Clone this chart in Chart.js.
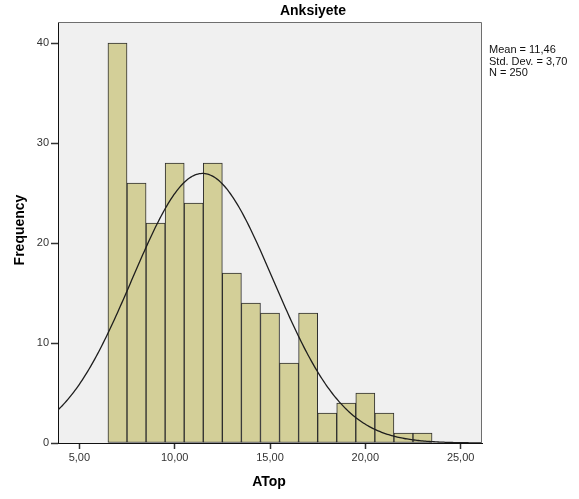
<!DOCTYPE html>
<html>
<head>
<meta charset="utf-8">
<script src="https://cdn.jsdelivr.net/npm/chart.js@4/dist/chart.umd.min.js"></script>
<style>
  html, body { margin: 0; padding: 0; background: #ffffff; }
  #wrap { width: 579px; height: 499px; position: relative; }
</style>
</head>
<body>
<div id="wrap"><canvas id="c" width="579" height="499"></canvas></div>
<script>
// Histogram bins (bin centres, width 1) and frequencies
const binCenters = [7, 8, 9, 10, 11, 12, 13, 14, 15, 16, 17, 18, 19, 20, 21, 22, 23];
const frequencies = [40, 26, 22, 28, 24, 28, 17, 14, 13, 8, 13, 3, 4, 5, 3, 1, 1];
const xTicks = [5, 10, 15, 20, 25];
const yTicks = [0, 10, 20, 30, 40];
const statsLines = ["Mean = 11,46", "Std. Dev. = 3,70", "N = 250"];
const MEAN = 11.46, SD = 3.70, N = 250, BIN_WIDTH = 1;
const titleText = "Anksiyete";
const xTitle = "ATop";
const yTitle = "Frequency";

// Fitted normal curve (from the reported mean / sd / N)
const X_MIN = 3.88, X_MAX = 26.12;
const curve = [];
for (let i = 0; i <= 300; i++) {
  const x = X_MIN + (X_MAX - X_MIN) * i / 300;
  const z = (x - MEAN) / SD;
  curve.push({ x: x, y: N * BIN_WIDTH * Math.exp(-0.5 * z * z) / (SD * Math.sqrt(2 * Math.PI)) });
}

const fmt = v => v.toFixed(2).replace('.', ',');
const FONT = "'Liberation Sans', Arial, sans-serif";

const decor = {
  id: 'decor',
  beforeDraw(chart) {
    const { ctx, chartArea: a } = chart;
    ctx.save();
    ctx.fillStyle = '#f0f0f0';
    ctx.fillRect(a.left, a.top, a.right - a.left, a.bottom - a.top);
    ctx.restore();
  },
  afterDraw(chart) {
    const { ctx, chartArea: a } = chart;
    ctx.save();
    ctx.strokeStyle = '#6e6e6e';
    ctx.lineWidth = 1;
    ctx.beginPath();
    ctx.moveTo(a.left, a.top + 0.5);
    ctx.lineTo(a.right - 0.5, a.top + 0.5);
    ctx.lineTo(a.right - 0.5, a.bottom);
    ctx.stroke();
    ctx.fillStyle = '#000';
    ctx.font = "bold 14px " + FONT;
    ctx.textAlign = 'center';
    ctx.textBaseline = 'middle';
    ctx.fillText(titleText, 313, 11);
    ctx.fillText(xTitle, 269, 482);
    ctx.save();
    ctx.translate(20, 230);
    ctx.rotate(-Math.PI / 2);
    ctx.fillText(yTitle, 0, 0);
    ctx.restore();
    ctx.font = "11px " + FONT;
    ctx.textAlign = 'left';
    ctx.fillStyle = '#111';
    statsLines.forEach((s, i) => ctx.fillText(s, 489, 50 + i * 11.5));
    ctx.restore();
  }
};

new Chart(document.getElementById('c'), {
  data: {
    datasets: [
      {
        type: 'line',
        data: curve,
        borderColor: '#1e1e1e',
        borderWidth: 1.3,
        pointRadius: 0,
        tension: 0,
        fill: false,
        order: 0
      },
      {
        type: 'bar',
        data: binCenters.map((c, i) => ({ x: c, y: frequencies[i] })),
        backgroundColor: '#d3cf98',
        borderColor: '#2e2e2e',
        borderWidth: 1,
        borderSkipped: false,
        barPercentage: 1,
        categoryPercentage: 1,
        order: 1
      }
    ]
  },
  options: {
    responsive: false,
    animation: false,
    layout: { padding: { left: 0, top: 22, right: 97, bottom: 0 } },
    plugins: { legend: { display: false }, title: { display: false }, tooltip: { enabled: false } },
    scales: {
      x: {
        type: 'linear',
        offset: false,
        min: X_MIN,
        max: X_MAX,
        afterBuildTicks: s => { s.ticks = xTicks.map(v => ({ value: v })); },
        afterFit: s => { s.height = 56; },
        grid: { display: true, offset: false, drawOnChartArea: false, drawTicks: true, tickLength: 6, tickColor: '#333', tickWidth: 1.5 },
        border: { display: true, color: '#111', width: 1 },
        ticks: { callback: v => fmt(v), font: { family: FONT, size: 11 }, color: '#333', padding: 2, maxRotation: 0 }
      },
      y: {
        type: 'linear',
        min: 0,
        max: 42.1,
        afterBuildTicks: s => { s.ticks = yTicks.map(v => ({ value: v })); },
        afterFit: s => { s.width = 58; },
        grid: { display: true, drawOnChartArea: false, drawTicks: true, tickLength: 7, tickColor: '#333', tickWidth: 1.5 },
        border: { display: true, color: '#111', width: 1 },
        ticks: { callback: v => String(v), font: { family: FONT, size: 11 }, color: '#333', padding: 2 }
      }
    }
  },
  plugins: [decor]
});
</script>
</body>
</html>
